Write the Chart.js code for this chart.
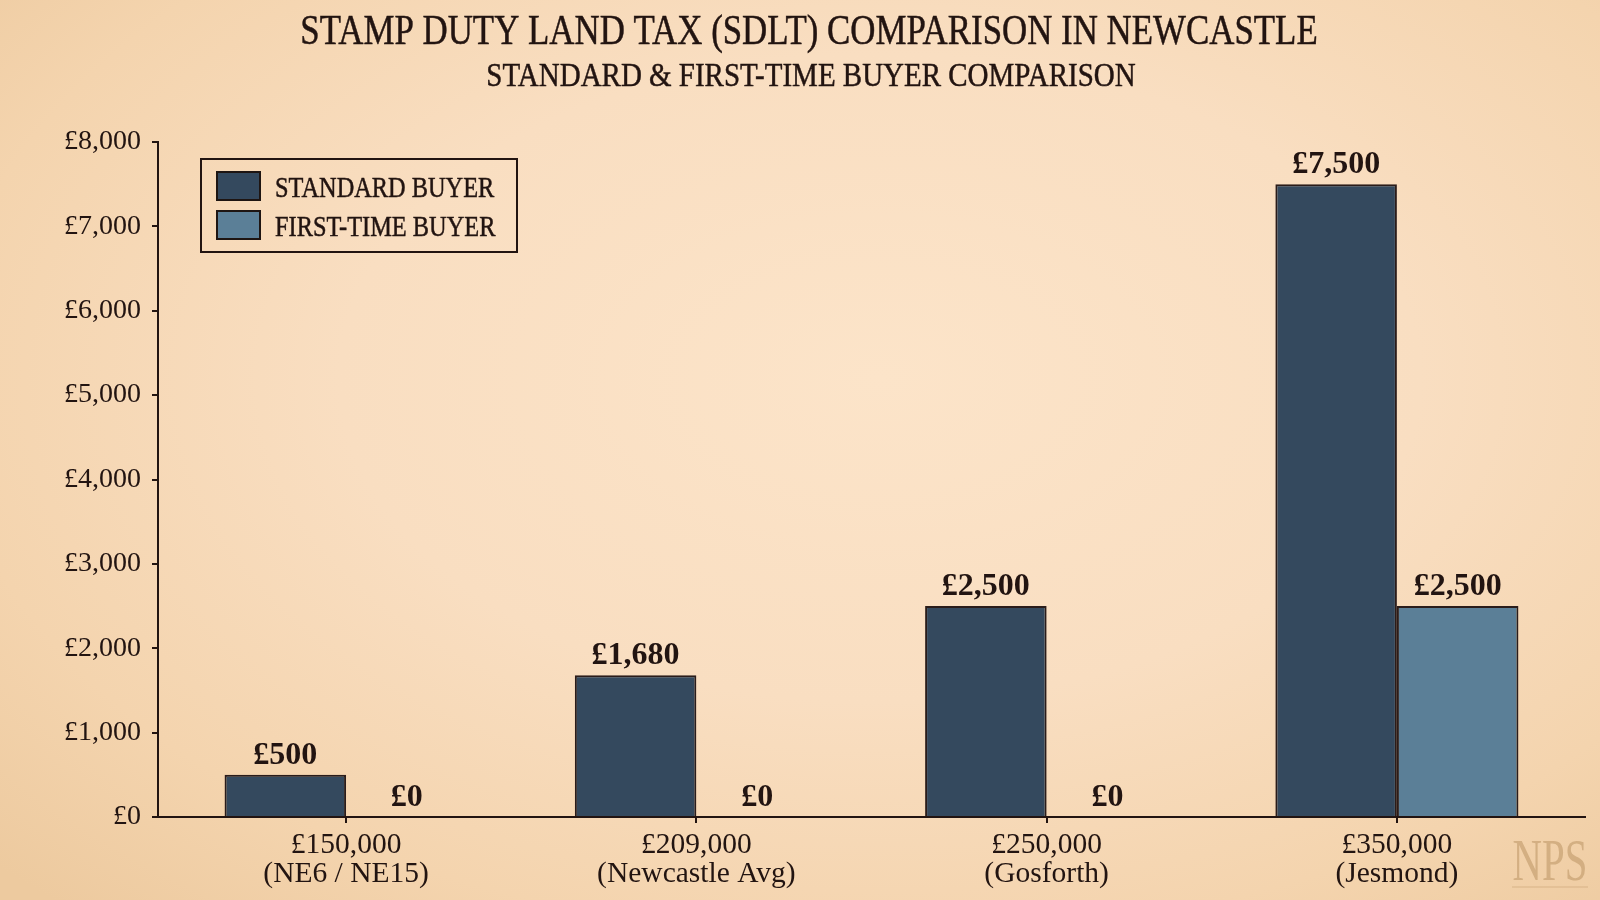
<!DOCTYPE html>
<html>
<head>
<meta charset="utf-8">
<script src="https://cdn.jsdelivr.net/npm/chart.js@4.4.1/dist/chart.umd.min.js"></script>
<style>
html,body{margin:0;padding:0;}
body{width:1600px;height:900px;overflow:hidden;
  background:radial-gradient(ellipse 75% 80% at 55% 42%, #fce4c9 0%, #f9dec1 45%, #f4d4ae 78%, #edca9f 100%);}
#wrap{position:relative;width:1600px;height:900px;}
</style>
</head>
<body>
<div id="wrap"><canvas id="sdlt" width="1600" height="900"></canvas></div>
<script>
// Data
const priceLabels=['£150,000','£209,000','£250,000','£350,000'];
const areaLabels=['(NE6 / NE15)','(Newcastle Avg)','(Gosforth)','(Jesmond)'];
const standardBuyer=[500,1680,2500,7500];
const firstTimeBuyer=[0,0,0,2500];
const seriesNames=['STANDARD BUYER','FIRST-TIME BUYER'];
const yMax=8000, yStep=1000;

const titleText='STAMP DUTY LAND TAX (SDLT) COMPARISON IN NEWCASTLE';
const subtitleText='STANDARD & FIRST-TIME BUYER COMPARISON';

const ink='#221411';
const serif='"Liberation Serif", "DejaVu Serif", serif';
const squeeze=0.84;

const fmt=v=>'£'+v.toLocaleString('en-GB');

function condensedText(ctx,text,x,y,font,align){
  ctx.save();
  ctx.font=font;
  ctx.fillStyle=ink;
  ctx.strokeStyle=ink;
  ctx.lineWidth=0.5;
  ctx.textAlign=align||'center';
  ctx.textBaseline='alphabetic';
  ctx.translate(x,y);
  ctx.scale(squeeze,1);
  ctx.fillText(text,0,0);
  ctx.strokeText(text,0,0);
  ctx.restore();
}

// titles, legend box, watermark
const decor={
  id:'decor',
  afterDraw(chart){
    const ctx=chart.ctx;
    condensedText(ctx,titleText,809,44,'41.5px '+serif);
    condensedText(ctx,subtitleText,811,86,'34.5px '+serif);

    // legend
    ctx.save();
    ctx.strokeStyle=ink; ctx.lineWidth=2;
    ctx.strokeRect(201,159,316,93);
    chart.data.datasets.forEach((ds,i)=>{
      const y=172+i*39;
      ctx.fillStyle=ds.backgroundColor;
      ctx.fillRect(217,y,43,28);
      ctx.strokeStyle='#1e1512'; ctx.lineWidth=2;
      ctx.strokeRect(217,y,43,28);
      condensedText(ctx,ds.label,275,y+25,'29px '+serif,'left');
    });
    ctx.restore();

    // watermark
    ctx.save();
    ctx.globalAlpha=0.5;
    ctx.fillStyle='#b58e5c';
    ctx.font='60px '+serif;
    ctx.translate(1550,880);
    ctx.scale(0.68,1);
    ctx.textAlign='center';
    ctx.fillText('NPS',0,0);
    ctx.restore();
    ctx.save();
    ctx.globalAlpha=0.4;
    ctx.strokeStyle='#b58e5c'; ctx.lineWidth=1;
    ctx.beginPath(); ctx.moveTo(1512,887); ctx.lineTo(1588,887); ctx.stroke();
    ctx.restore();
  }
};

// value labels above bars
const valueLabels={
  id:'valueLabels',
  afterDatasetsDraw(chart){
    const ctx=chart.ctx;
    ctx.save();
    ctx.font='bold 32px '+serif;
    ctx.fillStyle=ink;
    ctx.textAlign='center';
    ctx.textBaseline='alphabetic';
    chart.data.datasets.forEach((ds,i)=>{
      chart.getDatasetMeta(i).data.forEach((bar,j)=>{
        ctx.fillText(fmt(ds.data[j]),bar.x,bar.y-11);
      });
    });
    ctx.restore();
  }
};

new Chart(document.getElementById('sdlt'),{
  type:'bar',
  data:{
    labels:priceLabels.map((p,i)=>[p,areaLabels[i]]),
    datasets:[
      {label:seriesNames[0],data:standardBuyer,backgroundColor:'#34495e',borderColor:'#2a1c1a',borderWidth:2},
      {label:seriesNames[1],data:firstTimeBuyer,backgroundColor:'#5b7f97',borderColor:'#2a1c1a',borderWidth:2}
    ]
  },
  options:{
    responsive:false,
    animation:false,
    devicePixelRatio:1,
    layout:{padding:{top:142,left:0,right:15,bottom:0}},
    datasets:{bar:{categoryPercentage:0.694,barPercentage:1}},
    plugins:{legend:{display:false},title:{display:false},tooltip:{enabled:false}},
    scales:{
      x:{
        offset:true,
        afterBuildTicks(s){ s._startValue=-0.537; s._valueRange=4.074; },
        afterFit(s){ s.height=83; },
        grid:{display:true,drawOnChartArea:false,drawTicks:true,tickLength:6,offset:false,color:ink,lineWidth:2},
        border:{display:true,color:ink,width:2},
        ticks:{color:ink,font:{family:serif,size:29.5,lineHeight:0.97},padding:8,maxRotation:0,autoSkip:false}
      },
      y:{
        min:0,max:yMax,
        afterFit(s){ s.width=158; },
        grid:{display:true,drawOnChartArea:false,drawTicks:true,tickLength:6,color:ink,lineWidth:2},
        border:{display:true,color:ink,width:2},
        ticks:{stepSize:yStep,color:ink,font:{family:serif,size:28},padding:11,callback:v=>fmt(v)}
      }
    }
  },
  plugins:[valueLabels,decor]
});
</script>
</body>
</html>
